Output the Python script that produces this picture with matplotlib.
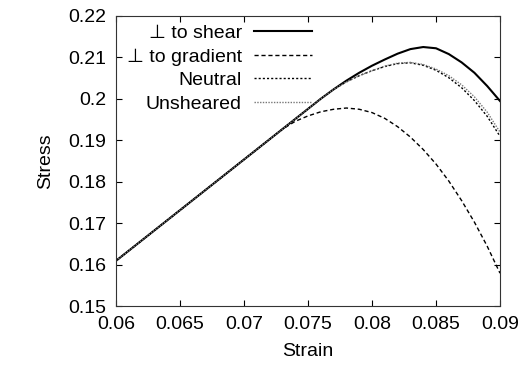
import matplotlib
matplotlib.use("Agg")
import matplotlib.pyplot as plt

plt.rcParams['font.family'] = ['Liberation Sans', 'DejaVu Sans']

strain = [0.060, 0.061, 0.062, 0.063, 0.064, 0.065, 0.066, 0.067, 0.068, 0.069,
          0.070, 0.071, 0.072, 0.073, 0.074, 0.075, 0.076, 0.077, 0.078, 0.079,
          0.080, 0.081, 0.082, 0.083, 0.084, 0.085, 0.086, 0.087, 0.088, 0.089, 0.090]

shear = [0.1610, 0.16344, 0.16588, 0.16832, 0.17076, 0.1732, 0.17564, 0.17808,
         0.18052, 0.18296, 0.1854, 0.18784, 0.19028, 0.19272, 0.19516, 0.1976,
         0.20004, 0.2023, 0.2044, 0.2063, 0.2080, 0.2095, 0.2109, 0.2120, 0.2125,
         0.2122, 0.2108, 0.2088, 0.2063, 0.2031, 0.1995]
gradient = [0.1610, 0.16344, 0.16588, 0.16832, 0.17076, 0.1732, 0.17564, 0.17808,
            0.18052, 0.18296, 0.1854, 0.18784, 0.19028, 0.1927, 0.1946, 0.1959,
            0.1969, 0.1975, 0.1978, 0.1975, 0.1967, 0.1953, 0.1933, 0.1908, 0.1878,
            0.1843, 0.1802, 0.1755, 0.1703, 0.1645, 0.1580]
neutral = [0.1610, 0.16344, 0.16588, 0.16832, 0.17076, 0.1732, 0.17564, 0.17808,
           0.18052, 0.18296, 0.1854, 0.18784, 0.19028, 0.19272, 0.19516, 0.1976,
           0.20004, 0.2023, 0.2041, 0.2056, 0.2068, 0.2078, 0.2085, 0.2087, 0.2081,
           0.2069, 0.2051, 0.2027, 0.1996, 0.1958, 0.1910]
unsheared = [0.1610, 0.16344, 0.16588, 0.16832, 0.17076, 0.1732, 0.17564, 0.17808,
             0.18052, 0.18296, 0.1854, 0.18784, 0.19028, 0.19272, 0.19516, 0.1976,
             0.20004, 0.2023, 0.2041, 0.2056, 0.2068, 0.2079, 0.2086, 0.2088, 0.2083,
             0.2072, 0.2056, 0.2034, 0.2005, 0.1968, 0.1920]

labels = ['\u22a5 to shear', '\u22a5 to gradient', 'Neutral', 'Unsheared']
xticks = [0.06, 0.065, 0.07, 0.075, 0.08, 0.085, 0.09]
xticklabels = ['0.06', '0.065', '0.07', '0.075', '0.08', '0.085', '0.09']
yticks = [0.15, 0.16, 0.17, 0.18, 0.19, 0.2, 0.21, 0.22]
yticklabels = ['0.15', '0.16', '0.17', '0.18', '0.19', '0.2', '0.21', '0.22']

fig = plt.figure(figsize=(5.23, 3.70), dpi=100)
ax = fig.add_axes([0.222, 0.172, 0.734, 0.785])

ax.plot(strain, shear, color='black', lw=1.5, ls='-', label=labels[0])
ax.plot(strain, gradient, color='black', lw=1.0, ls=(0, (3, 2)), label=labels[1])
ax.plot(strain, neutral, color='black', lw=1.0, ls=(0, (1.5, 1.5)), label=labels[2])
ax.plot(strain, unsheared, color='#777777', lw=1.0, ls=(0, (1, 1)), label=labels[3])

ax.set_xlim(0.06, 0.09)
ax.set_ylim(0.15, 0.22)
ax.set_xticks(xticks)
ax.set_xticklabels(xticklabels)
ax.set_yticks(yticks)
ax.set_yticklabels(yticklabels)
ax.tick_params(direction='in', length=4, width=0.8, top=True, right=True,
               labelsize=14, pad=7, colors='black')
for s in ax.spines.values():
    s.set_linewidth(0.8)
    s.set_color('#333333')
ax.set_xlabel('Strain', fontsize=14, labelpad=7)
ax.set_ylabel('Stress', fontsize=14, labelpad=10)

leg = ax.legend(loc='upper right', bbox_to_anchor=(0.51, 0.97), frameon=False,
                markerfirst=False, fontsize=14, handlelength=3.0, handletextpad=0.6,
                labelspacing=0.3, borderpad=0, borderaxespad=0)

fig.savefig('out.png', dpi=100)
